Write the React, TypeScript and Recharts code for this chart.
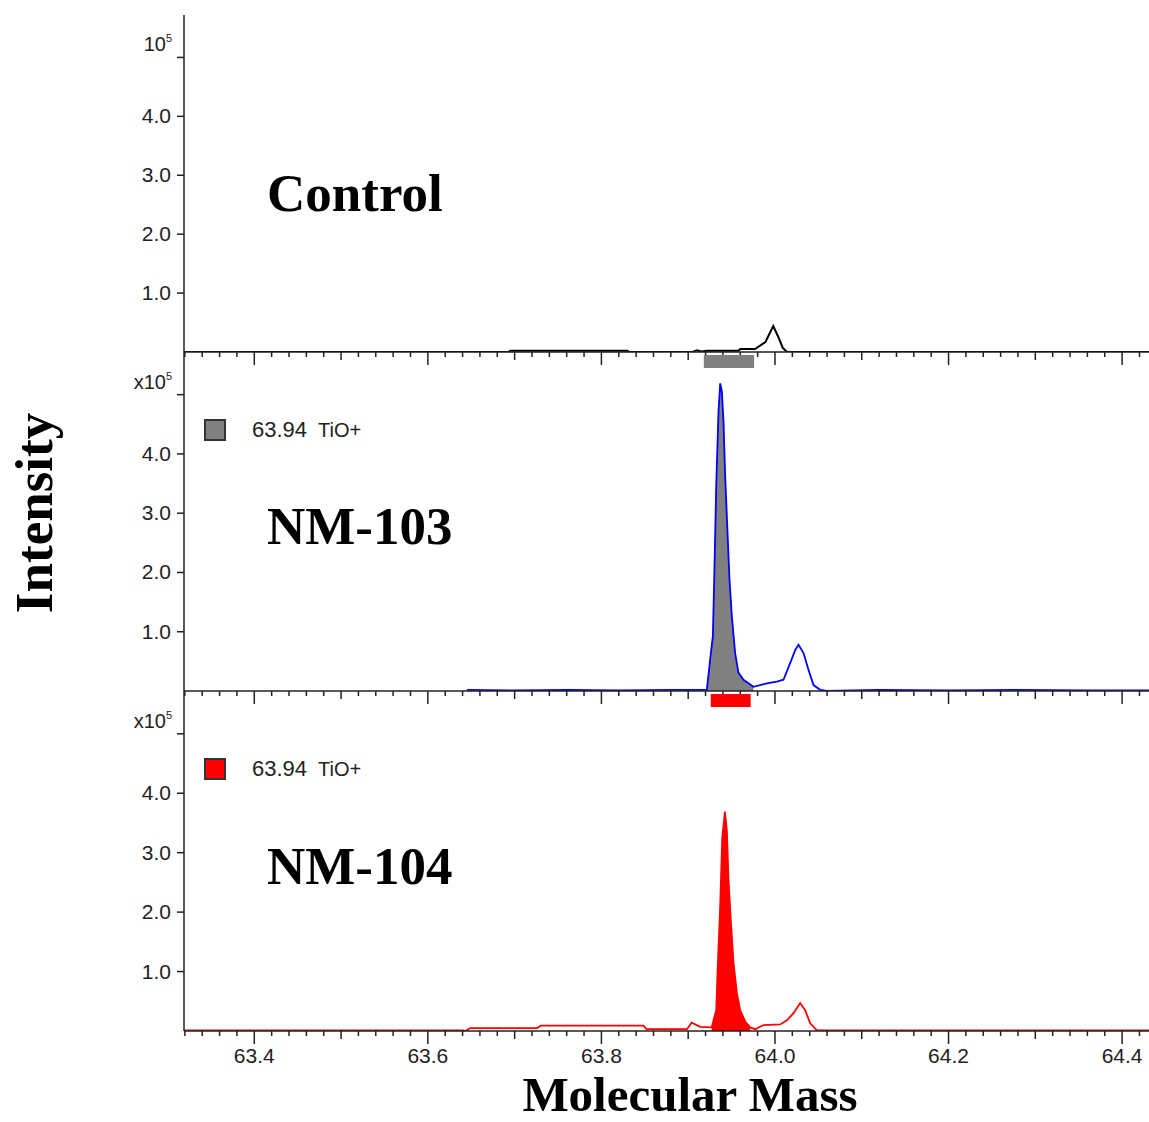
import React from "react";
import { ComposedChart, XAxis, YAxis, Line, Area, ReferenceArea } from "recharts";

// mass in u, intensity in units of 1e5 counts
const controlMass = [63.319, 63.693, 63.695, 63.83, 63.832, 63.905, 63.91, 63.915, 63.922, 63.958, 63.96, 63.977, 63.989, 63.998, 64.004, 64.009, 64.014, 64.431];
const controlIntensity = [0, 0, 0.02, 0.02, 0, 0, 0.03, 0.01, 0.02, 0.02, 0.05, 0.05, 0.17, 0.44, 0.25, 0.07, 0, 0];

const nm103Mass = [63.645, 63.7, 63.76, 63.82, 63.88, 63.9215, 63.9253, 63.9284, 63.93, 63.9323, 63.9349, 63.9369, 63.9388, 63.9407, 63.9426, 63.9453, 63.9476, 63.9503, 63.9541, 63.9579, 63.9637, 63.9752, 63.9907, 64.0022, 64.0098, 64.0175, 64.0233, 64.0271, 64.0329, 64.0386, 64.0444, 64.0521, 64.0598, 64.12, 64.2, 64.28, 64.36, 64.431];
const nm103Intensity = [0.02, 0.01, 0.02, 0.01, 0.02, 0.02, 0.53, 0.92, 1.88, 3.46, 4.71, 5.19, 5.05, 4.54, 3.63, 2.68, 1.88, 1.26, 0.64, 0.31, 0.19, 0.07, 0.13, 0.16, 0.19, 0.47, 0.69, 0.78, 0.64, 0.36, 0.1, 0.02, 0.0, 0.02, 0.01, 0.02, 0.01, 0.01];

const nm104Mass = [63.319, 63.641, 63.643, 63.649, 63.726, 63.73, 63.8485, 63.852, 63.8985, 63.904, 63.9138, 63.927, 63.9323, 63.9338, 63.9369, 63.9392, 63.9423, 63.9446, 63.9464, 63.9492, 63.9522, 63.9561, 63.9599, 63.9657, 63.9714, 63.9772, 63.9867, 64.006, 64.0137, 64.0214, 64.029, 64.0348, 64.0406, 64.0483, 64.431];
const nm104Intensity = [0.01, 0.01, 0.0, 0.05, 0.05, 0.09, 0.09, 0.03, 0.03, 0.14, 0.07, 0.06, 0.35, 0.98, 2.11, 3.24, 3.69, 3.36, 2.56, 1.83, 1.15, 0.64, 0.35, 0.16, 0.06, 0.03, 0.1, 0.11, 0.18, 0.3, 0.47, 0.35, 0.13, 0.01, 0.01];

// integration windows (bars above the NM panels)
const nm103Window = [63.918, 63.976];
const nm104Window = [63.926, 63.972];

const yTicks = [1, 2, 3, 4, 5];
const legendMass = "63.94";
const legendIon = "TiO+";

const X_DOMAIN: [number, number] = [63.319, 64.431];
const Y_MAX = 5.72;
const xTicks = Array.from({ length: 56 }, (_, i) => Math.round((63.32 + i * 0.02) * 100) / 100);

const AXIS = "#222";
const SANS = "'Liberation Sans', Arial, sans-serif";
const SERIF = "'Liberation Serif', 'Times New Roman', serif";

function buildRows(mass: number[], vals: number[], win?: number[]) {
    return mass.map((m, i) => ({
        m,
        v: vals[i],
        fill: win && m >= win[0] && m <= win[1] ? vals[i] : null,
    }));
}

const XTick = (props: any) => {
    const { x, y, payload, showLabel } = props;
    const v = payload.value;
    const major = Math.abs(v * 5 - Math.round(v * 5)) < 1e-6;
    const medium = !major && Math.abs(v * 10 - Math.round(v * 10)) < 1e-6;
    const len = major ? 13 : medium ? 8 : 5;
    return (
        <g>
            <line x1={x} x2={x} y1={y} y2={y + len} stroke={AXIS} strokeWidth={1.5} />
            {major && showLabel && (
                <text x={x} y={y + 32} textAnchor="middle" fontFamily={SANS} fontSize={21} fill="#222">
                    {v.toFixed(1)}
                </text>
            )}
        </g>
    );
};

const YTick = (props: any) => {
    const { x, y, payload, exp } = props;
    const v = payload.value;
    return (
        <g>
            <line x1={x - 7} x2={x} y1={y} y2={y} stroke={AXIS} strokeWidth={1.5} />
            {v === 5 ? (
                <text x={x - 12} y={y - 6} textAnchor="end" fontFamily={SANS} fontSize={20} fill="#222">
                    {exp}
                    <tspan dy={-9} fontSize={11}>5</tspan>
                </text>
            ) : (
                <text x={x - 13} y={y + 7} textAnchor="end" fontFamily={SANS} fontSize={21} fill="#222">
                    {v.toFixed(1)}
                </text>
            )}
        </g>
    );
};

type PanelProps = {
    top: number;
    height: number;
    marginTop: number;
    xAxisHeight: number;
    rows: any[];
    color: string;
    lineWidth: number;
    fillColor?: string;
    win?: number[];
    exp: string;
    showXLabels: boolean;
};

function Panel({ top, height, marginTop, xAxisHeight, rows, color, lineWidth, fillColor, win, exp, showXLabels }: PanelProps) {
    return (
        <div style={{ position: "absolute", left: 0, top }}>
            <ComposedChart width={1149} height={height} data={rows} margin={{ top: marginTop, right: 0, left: 0, bottom: 0 }}>
                <XAxis
                    dataKey="m"
                    type="number"
                    domain={X_DOMAIN}
                    allowDataOverflow
                    ticks={xTicks}
                    interval={0}
                    tickSize={0}
                    tickMargin={0}
                    tickLine={false}
                    height={xAxisHeight}
                    axisLine={{ stroke: AXIS, strokeWidth: 1.5 }}
                    tick={(p: any) => <XTick {...p} showLabel={showXLabels} />}
                />
                <YAxis
                    type="number"
                    domain={[0, Y_MAX]}
                    allowDataOverflow
                    ticks={yTicks}
                    interval={0}
                    width={184}
                    tickSize={0}
                    tickMargin={0}
                    tickLine={false}
                    axisLine={{ stroke: AXIS, strokeWidth: 1.5 }}
                    tick={(p: any) => <YTick {...p} exp={exp} />}
                />
                {win && fillColor && (
                    <ReferenceArea
                        x1={win[0]}
                        x2={win[1]}
                        y1={Y_MAX - 0.27}
                        y2={Y_MAX - 0.05}
                        fill={fillColor}
                        fillOpacity={1}
                        stroke="none"
                        ifOverflow="visible"
                    />
                )}
                {win && fillColor && (
                    <Area
                        type="linear"
                        dataKey="fill"
                        fill={fillColor}
                        fillOpacity={1}
                        stroke="none"
                        isAnimationActive={false}
                    />
                )}
                <Line type="linear" dataKey="v" stroke={color} strokeWidth={lineWidth} dot={false} isAnimationActive={false} />
            </ComposedChart>
        </div>
    );
}

function LegendItem({ y, color }: { y: number; color: string }) {
    return (
        <g>
            <rect x={205} y={y} width={20} height={20} fill={color} stroke="#333" strokeWidth={2} />
            <text x={252} y={y + 17} fontFamily={SANS} fontSize={22} fill="#222">{legendMass}</text>
            <text x={318} y={y + 17} fontFamily={SANS} fontSize={20} fill="#222">{legendIon}</text>
        </g>
    );
}

export default function App() {
    const controlRows = buildRows(controlMass, controlIntensity);
    const nm103Rows = buildRows(nm103Mass, nm103Intensity, nm103Window);
    const nm104Rows = buildRows(nm104Mass, nm104Intensity, nm104Window);

    return (
        <div style={{ position: "absolute", left: 0, top: 0, width: 1149, height: 1122, background: "#fff", overflow: "hidden" }}>
            <Panel top={0} height={372} marginTop={15} xAxisHeight={20} rows={controlRows} color="#000" lineWidth={2} exp="10" showXLabels={false} />
            <Panel top={352} height={359} marginTop={0} xAxisHeight={20} rows={nm103Rows} color="#0000ff" lineWidth={1.8} fillColor="#808080" win={nm103Window} exp="x10" showXLabels={false} />
            <Panel top={691} height={390} marginTop={0} xAxisHeight={50} rows={nm104Rows} color="#ff0000" lineWidth={1.8} fillColor="#ff0000" win={nm104Window} exp="x10" showXLabels={true} />
            <svg width={1149} height={1122} style={{ position: "absolute", left: 0, top: 0, pointerEvents: "none" }}>
                <text x={267} y={211} fontFamily={SERIF} fontWeight="bold" fontSize={53} fill="#000">Control</text>
                <text x={267} y={544} fontFamily={SERIF} fontWeight="bold" fontSize={53} fill="#000">NM-103</text>
                <text x={267} y={884} fontFamily={SERIF} fontWeight="bold" fontSize={53} fill="#000">NM-104</text>
                <LegendItem y={420} color="#808080" />
                <LegendItem y={759} color="#ff0000" />
                <text x={690} y={1111} textAnchor="middle" fontFamily={SERIF} fontWeight="bold" fontSize={49} fill="#000">Molecular Mass</text>
                <text
                    x={0}
                    y={0}
                    transform="translate(52 513) rotate(-90)"
                    textAnchor="middle"
                    fontFamily={SERIF}
                    fontWeight="bold"
                    fontSize={53}
                    fill="#000"
                >
                    Intensity
                </text>
            </svg>
        </div>
    );
}
